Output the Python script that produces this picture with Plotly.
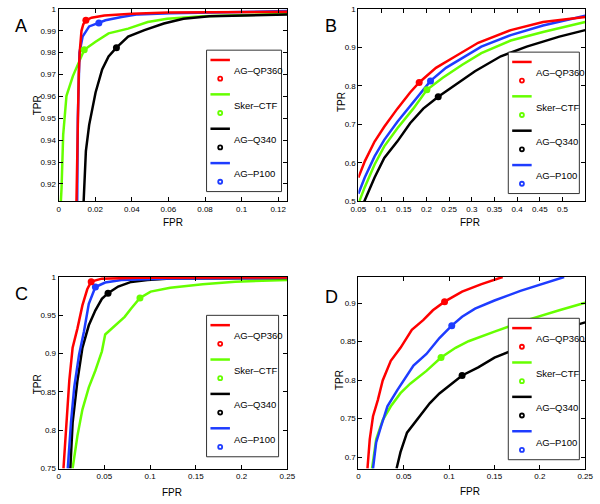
import plotly.graph_objects as go

W, H = 600, 504
FONT = 'Liberation Sans Narrow, Liberation Sans, Arial'

METHODS = ['AG-QP360', 'Sker-CTF', 'AG-Q340', 'AG-P100']
COLORS = ['#ff0000', '#66ff00', '#000000', '#1e3cff']

# ---- panel A ----
A_QP360_FPR = [0.0096, 0.0100, 0.0105, 0.0110, 0.0115, 0.0125, 0.0135, 0.0149, 0.018, 0.025, 0.04, 0.06, 0.125]
A_QP360_TPR = [0.905, 0.930, 0.950, 0.970, 0.980, 0.990, 0.993, 0.9948, 0.996, 0.997, 0.9978, 0.9984, 0.9987]
A_SKER_FPR = [0.0008, 0.0016, 0.0025, 0.0043, 0.0078, 0.0114, 0.014, 0.0202, 0.0273, 0.038, 0.0487, 0.0593, 0.0788, 0.125]
A_SKER_TPR = [0.905, 0.918, 0.9424, 0.9603, 0.9693, 0.976, 0.9813, 0.985, 0.9888, 0.991, 0.994, 0.9955, 0.9966, 0.9978]
A_Q340_FPR = [0.0133, 0.0149, 0.0167, 0.0202, 0.0238, 0.0273, 0.0316, 0.038, 0.0469, 0.0575, 0.0682, 0.0824, 0.125]
A_Q340_TPR = [0.905, 0.935, 0.947, 0.9618, 0.9723, 0.9783, 0.9823, 0.9873, 0.9903, 0.9933, 0.9955, 0.9966, 0.9975]
A_P100_FPR = [0.0101, 0.0105, 0.0114, 0.0131, 0.0167, 0.022, 0.0256, 0.0344, 0.0433, 0.061, 0.125]
A_P100_TPR = [0.905, 0.950, 0.980, 0.9873, 0.992, 0.9936, 0.9948, 0.9963, 0.9975, 0.998, 0.999]
A_MARK_FPR = [0.0149, 0.014, 0.0316, 0.022]
A_MARK_TPR = [0.9948, 0.9813, 0.9823, 0.9936]

# ---- panel B ----
B_QP360_FPR = [0.05, 0.0643, 0.0857, 0.107, 0.136, 0.164, 0.184, 0.221, 0.264, 0.314, 0.386, 0.457, 0.55]
B_QP360_TPR = [0.562, 0.6047, 0.6556, 0.694, 0.741, 0.783, 0.809, 0.847, 0.877, 0.912, 0.945, 0.966, 0.979]
B_SKER_FPR = [0.052, 0.064, 0.0857, 0.107, 0.136, 0.171, 0.201, 0.236, 0.279, 0.321, 0.386, 0.457, 0.55]
B_SKER_TPR = [0.500, 0.537, 0.596, 0.643, 0.690, 0.741, 0.790, 0.821, 0.855, 0.885, 0.918, 0.940, 0.966]
B_Q340_FPR = [0.0629, 0.0857, 0.107, 0.136, 0.164, 0.193, 0.226, 0.264, 0.307, 0.364, 0.421, 0.493, 0.55]
B_Q340_TPR = [0.500, 0.562, 0.613, 0.656, 0.703, 0.741, 0.772, 0.804, 0.838, 0.877, 0.902, 0.928, 0.945]
B_P100_FPR = [0.05, 0.064, 0.0857, 0.107, 0.136, 0.171, 0.209, 0.243, 0.279, 0.321, 0.386, 0.457, 0.55]
B_P100_TPR = [0.520, 0.562, 0.617, 0.660, 0.707, 0.758, 0.813, 0.847, 0.872, 0.902, 0.932, 0.957, 0.982]
B_MARK_FPR = [0.184, 0.201, 0.226, 0.209]
B_MARK_TPR = [0.809, 0.790, 0.772, 0.813]

# ---- panel C ----
C_QP360_FPR = [0.0053, 0.0082, 0.0117, 0.0153, 0.0206, 0.026, 0.0313, 0.0356, 0.0473, 0.0864, 0.25]
C_QP360_TPR = [0.75, 0.8096, 0.865, 0.9076, 0.933, 0.963, 0.984, 0.994, 0.9979, 0.999, 0.9995]
C_SKER_FPR = [0.0153, 0.0206, 0.026, 0.033, 0.0402, 0.0473, 0.0509, 0.0615, 0.0722, 0.0793, 0.0889, 0.1006, 0.122, 0.1575, 0.193, 0.25]
C_SKER_TPR = [0.75, 0.793, 0.827, 0.856, 0.878, 0.903, 0.925, 0.937, 0.948, 0.959, 0.9727, 0.981, 0.986, 0.9906, 0.994, 0.996]
C_Q340_FPR = [0.0128, 0.0153, 0.0206, 0.026, 0.033, 0.0402, 0.0473, 0.054, 0.0651, 0.0793, 0.097, 0.122, 0.25]
C_Q340_TPR = [0.75, 0.8096, 0.865, 0.9076, 0.937, 0.9566, 0.9715, 0.979, 0.9876, 0.9936, 0.996, 0.998, 0.9987]
C_P100_FPR = [0.01, 0.0135, 0.0171, 0.0224, 0.0277, 0.033, 0.0402, 0.0509, 0.0686, 0.122, 0.25]
C_P100_TPR = [0.75, 0.81, 0.8565, 0.899, 0.929, 0.965, 0.987, 0.9928, 0.996, 0.998, 0.999]
C_MARK_FPR = [0.0356, 0.0889, 0.054, 0.0402]
C_MARK_TPR = [0.994, 0.9727, 0.979, 0.987]

# ---- panel D ----
D_QP360_FPR = [0.01, 0.0125, 0.0161, 0.0214, 0.0268, 0.0357, 0.0464, 0.0589, 0.0714, 0.0821, 0.095, 0.1143, 0.1357, 0.159]
D_QP360_TPR = [0.685, 0.723, 0.753, 0.774, 0.7996, 0.825, 0.842, 0.8653, 0.878, 0.8908, 0.902, 0.915, 0.9247, 0.934]
D_SKER_FPR = [0.015, 0.0196, 0.0268, 0.0357, 0.0464, 0.0571, 0.075, 0.0911, 0.1071, 0.1214, 0.15, 0.1857, 0.2214, 0.25]
D_SKER_TPR = [0.685, 0.723, 0.748, 0.766, 0.783, 0.7953, 0.812, 0.8293, 0.842, 0.8505, 0.863, 0.878, 0.8908, 0.9005]
D_Q340_FPR = [0.0421, 0.0464, 0.0536, 0.0643, 0.0786, 0.0893, 0.1143, 0.1321, 0.15, 0.1679, 0.1929, 0.2214, 0.25]
D_Q340_TPR = [0.685, 0.7063, 0.7317, 0.7487, 0.7698, 0.7826, 0.806, 0.8165, 0.8293, 0.8378, 0.8505, 0.8653, 0.875]
D_P100_FPR = [0.0161, 0.0196, 0.025, 0.032, 0.0429, 0.05, 0.0607, 0.075, 0.0893, 0.1029, 0.1143, 0.1286, 0.15, 0.1786, 0.207, 0.2268]
D_P100_TPR = [0.685, 0.719, 0.74, 0.766, 0.787, 0.7996, 0.819, 0.834, 0.8547, 0.8708, 0.8823, 0.8929, 0.9035, 0.916, 0.9268, 0.934]
D_MARK_FPR = [0.095, 0.0911, 0.1143, 0.1029]
D_MARK_TPR = [0.902, 0.8293, 0.806, 0.8708]

A_CURVES = [(A_QP360_FPR, A_QP360_TPR), (A_SKER_FPR, A_SKER_TPR), (A_Q340_FPR, A_Q340_TPR), (A_P100_FPR, A_P100_TPR)]
B_CURVES = [(B_QP360_FPR, B_QP360_TPR), (B_SKER_FPR, B_SKER_TPR), (B_Q340_FPR, B_Q340_TPR), (B_P100_FPR, B_P100_TPR)]
C_CURVES = [(C_QP360_FPR, C_QP360_TPR), (C_SKER_FPR, C_SKER_TPR), (C_Q340_FPR, C_Q340_TPR), (C_P100_FPR, C_P100_TPR)]
D_CURVES = [(D_QP360_FPR, D_QP360_TPR), (D_SKER_FPR, D_SKER_TPR), (D_Q340_FPR, D_Q340_TPR), (D_P100_FPR, D_P100_TPR)]


# panel layout in pixels: (left, right, top, bottom), axis ranges, ticks, legend box, label positions
PANELS = [
    dict(letter='A', curves=A_CURVES, mx=A_MARK_FPR, my=A_MARK_TPR,
         box=(52, 287, 5, 201), xr=[0, 0.125], yr=[0.912, 1.0],
         xt=[0, 0.02, 0.04, 0.06, 0.08, 0.1, 0.12], yt=[0.92, 0.93, 0.94, 0.95, 0.96, 0.97, 0.98, 0.99, 1],
         leg=(204, 281, 47, 191), lbl=(5, 22), tpr=(30, 103), fpr=(170, 222)),
    dict(letter='B', curves=B_CURVES, mx=B_MARK_FPR, my=B_MARK_TPR,
         box=(360, 593, 5, 201), xr=[0.05, 0.55], yr=[0.5, 1.0],
         xt=[0.05, 0.1, 0.15, 0.2, 0.25, 0.3, 0.35, 0.4, 0.45, 0.5], yt=[0.5, 0.6, 0.7, 0.8, 0.9, 1],
         leg=(514, 587, 49, 193), lbl=(324, 22), tpr=(342, 100), fpr=(475, 222)),
    dict(letter='C', curves=C_CURVES, mx=C_MARK_FPR, my=C_MARK_TPR,
         box=(52, 287, 278, 473), xr=[0, 0.25], yr=[0.75, 1.0],
         xt=[0, 0.05, 0.1, 0.15, 0.2, 0.25], yt=[0.75, 0.8, 0.85, 0.9, 0.95, 1],
         leg=(204, 278, 317, 461), lbl=(5, 295), tpr=(30, 387), fpr=(168, 497)),
    dict(letter='D', curves=D_CURVES, mx=D_MARK_FPR, my=D_MARK_TPR,
         box=(360, 593, 278, 473), xr=[0, 0.25], yr=[0.685, 0.934],
         xt=[0, 0.05, 0.1, 0.15, 0.2, 0.25], yt=[0.7, 0.75, 0.8, 0.85, 0.9],
         leg=(514, 587, 320, 464), lbl=(324, 298), tpr=(340, 383), fpr=(475, 496)),
]


def px(x):
    return x / W


def py(y):
    return 1 - y / H


def label(x, y, text, size, xanchor='center', angle=0):
    # paper annotations default to 'auto' anchors, so pin them explicitly
    fig.add_annotation(x=px(x), y=py(y), xref='paper', yref='paper', text=text, showarrow=False,
                       xanchor=xanchor, yanchor='middle', textangle=angle,
                       font=dict(family=FONT, size=size, color='black'))


fig = go.Figure()
draw_order = [1, 2, 3, 0]  # green, black, blue, red on top

for i, p in enumerate(PANELS):
    n = '' if i == 0 else str(i + 1)
    xa, ya = 'x' + n, 'y' + n
    l, r, t, b = p['box']
    axis_common = dict(showline=True, linecolor='black', linewidth=1, mirror='ticks',
                       ticks='inside', ticklen=4, tickcolor='black', showgrid=False, zeroline=False,
                       tickfont=dict(family=FONT, size=8, color='black'))
    fig.layout['xaxis' + n] = dict(domain=[px(l), px(r)], range=p['xr'], tickvals=p['xt'],
                                   anchor=ya, **axis_common)
    fig.layout['yaxis' + n] = dict(domain=[py(b), py(t)], range=p['yr'], tickvals=p['yt'],
                                   anchor=xa, **axis_common)

    for k in draw_order:
        fx, ty = p['curves'][k]
        fig.add_trace(go.Scatter(x=fx, y=ty, mode='lines', xaxis=xa, yaxis=ya,
                                 line=dict(color=COLORS[k], width=2.5), showlegend=False))
    for k in draw_order:
        fig.add_trace(go.Scatter(x=[p['mx'][k]], y=[p['my'][k]], mode='markers', xaxis=xa, yaxis=ya,
                                 marker=dict(color=COLORS[k], size=7), showlegend=False))

    # panel letter and axis titles
    label(p['lbl'][0], p['lbl'][1], p['letter'], 18, xanchor='left')
    label(p['tpr'][0], p['tpr'][1], 'TPR', 10, angle=-90)
    label(p['fpr'][0], p['fpr'][1], 'FPR', 10)

    # matlab-style legend box
    lx0, lx1, ly0, ly1 = p['leg']
    fig.add_shape(type='rect', xref='paper', yref='paper', x0=px(lx0), x1=px(lx1), y0=py(ly1), y1=py(ly0),
                  line=dict(color='#333333', width=1), fillcolor='white', layer='above')
    for k in range(4):
        ly = ly0 + 10 + 35 * k
        fig.add_shape(type='line', xref='paper', yref='paper', x0=px(lx0 + 4), x1=px(lx0 + 24),
                      y0=py(ly), y1=py(ly), line=dict(color=COLORS[k], width=2.5), layer='above')
        fig.add_shape(type='circle', xref='paper', yref='paper', xsizemode='pixel', ysizemode='pixel',
                      xanchor=px(lx0 + 14), yanchor=py(ly + 19), x0=-2, x1=2, y0=-2, y1=2,
                      line=dict(color=COLORS[k], width=1.8), layer='above')
        label(lx0 + 26, ly + 11, METHODS[k].replace('-', '\u2013'), 9.5, xanchor='left')

fig.update_layout(width=W, height=H, margin=dict(l=0, r=0, t=0, b=0),
                  paper_bgcolor='white', plot_bgcolor='white', showlegend=False)

# drop the default page margin so the figure fills the window exactly
fig.write_html("out.html", post_script="document.body.style.margin='0';",
               config={'displayModeBar': False})
